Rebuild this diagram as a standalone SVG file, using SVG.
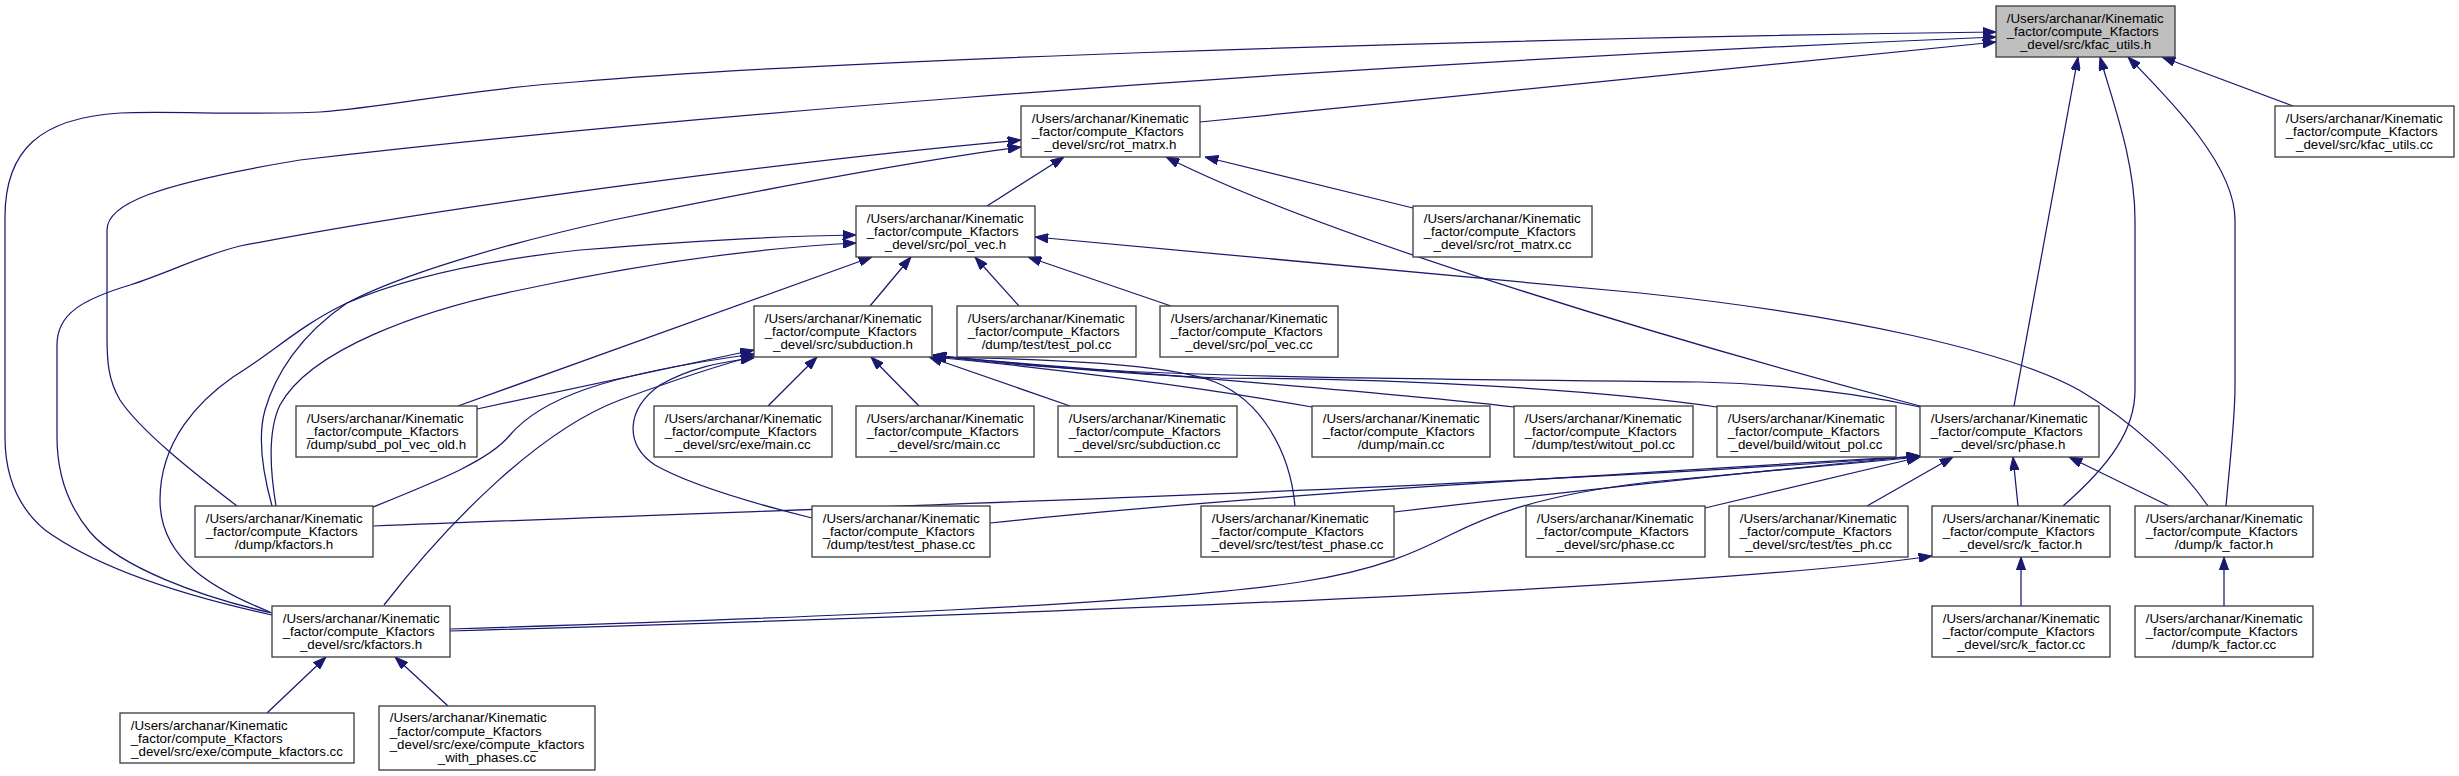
<svg xmlns="http://www.w3.org/2000/svg" width="2459" height="776" viewBox="0 0 2459 776">
<style>
.n rect{fill:#ffffff;stroke:#3a3a3a;stroke-width:1.3}
.n.root rect{fill:#bfbfbf}
.n text{font-family:"Liberation Sans",Arial,Helvetica,sans-serif;font-size:13.33px;fill:#000}
.n text.c{text-anchor:middle}
#edges path{fill:none;stroke:#191970;stroke-width:1.25;marker-end:url(#ah)}
</style>
<defs>
<marker id="ah" viewBox="0 0 13.3 9.4" refX="13.3" refY="4.7" markerWidth="13.3" markerHeight="9.4" markerUnits="userSpaceOnUse" orient="auto">
<path d="M0,0 L13.3,4.7 L0,9.4 z" fill="#191970" stroke="#191970" stroke-width="1"/>
</marker>
</defs>
<rect x="0" y="0" width="2459" height="776" fill="#ffffff"/>
<g id="edges">
<path d="M1200,122 L1996,42"/>
<path d="M272,615 C190,597 100,570 45,530 C15,505 5,470 5,437 L5,217 C5,150 40,118 120,113 C160,111 260,115 320,112 C390,107 460,90 575,82 C800,62 1400,40 1996,32"/>
<path d="M237,506 C190,470 140,430 120,400 C108,380 107,360 107,337 L107,230 C107,205 150,185 300,160 C600,125 1200,70 1996,37"/>
<path d="M272,613 C200,597 120,567 90,532 C65,502 57,470 57,437 L57,345 C57,315 80,300 130,285 C170,272 200,256 240,246 C450,205 800,160 1021,140"/>
<path d="M272,506 C262,470 258,435 265,410 C275,375 300,335 347,303 C400,275 500,245 613,220 C750,192 900,163 1021,147"/>
<path d="M270,612 C215,590 160,560 160,500 C160,440 200,400 233,377 C270,355 300,325 347,303 C400,280 470,262 580,250 C700,240 780,236 856,235"/>
<path d="M276,506 C270,470 268,430 280,405 C310,350 420,310 520,290 C650,262 760,248 856,243"/>
<path d="M458,406 L872,257"/>
<path d="M987,206 L1064,157"/>
<path d="M1920,406 C1700,348 1330,240 1166,157"/>
<path d="M1413,208 L1205,157"/>
<path d="M2293,106 L2162,57"/>
<path d="M2014,406 L2078,57"/>
<path d="M2063,506 C2110,465 2135,430 2135,390 L2135,220 C2135,160 2112,100 2100,57"/>
<path d="M2226,506 C2230,460 2235,420 2235,386 L2235,220 C2235,165 2170,100 2128,57"/>
<path d="M2208,506 C2180,465 2130,420 2079,390 C2010,352 1850,315 1640,293 L1035,237"/>
<path d="M870,306 L911,257"/>
<path d="M1019,306 L975,257"/>
<path d="M1171,306 L1028,257"/>
<path d="M477,409 L754,350"/>
<path d="M373,507 C440,480 490,460 510,435 C540,400 600,375 754,354"/>
<path d="M384,605 C450,520 540,430 620,400 C680,378 720,365 754,356"/>
<path d="M812,518 C760,505 690,485 655,465 C625,445 625,410 660,385 C690,368 720,362 754,358"/>
<path d="M768,406 L817,357"/>
<path d="M919,406 L871,357"/>
<path d="M1070,406 L929,357"/>
<path d="M1312,407 C1200,387 1050,368 933,357"/>
<path d="M1514,407 C1400,393 1100,370 933,356"/>
<path d="M1717,407 C1600,390 1400,378 1220,378 C1100,373 1000,362 933,355"/>
<path d="M1920,407 C1850,392 1780,384 1700,382 C1500,380 1250,378 1100,370 C1030,366 970,361 933,355"/>
<path d="M1295,506 C1290,450 1260,400 1215,382 C1180,368 1100,360 933,357"/>
<path d="M373,526 C900,505 1500,488 1920,456"/>
<path d="M450,629 C800,618 1150,605 1300,582 C1380,570 1420,550 1450,535 C1490,515 1540,495 1650,482 C1750,472 1850,463 1920,457"/>
<path d="M990,523 C1250,495 1650,472 1920,456"/>
<path d="M1394,512 C1600,488 1800,467 1920,456"/>
<path d="M1705,508 L1920,457"/>
<path d="M1867,506 L1953,457"/>
<path d="M2018,506 L2013,457"/>
<path d="M2169,506 L2069,457"/>
<path d="M450,631 C1000,615 1700,590 1932,556"/>
<path d="M2021,606 L2021,557"/>
<path d="M2224,606 L2224,557"/>
<path d="M267,713 L326,657"/>
<path d="M448,706 L395,657"/>
</g>
<g id="node-kfac_utils_h" class="n root"><rect x="1996" y="6" width="179" height="51"/><text x="2006.7" y="22.7">/Users/archanar/Kinematic</text><text x="2006.7" y="36">_factor/compute_Kfactors</text><text class="c" x="2085.5" y="49.3">_devel/src/kfac_utils.h</text></g>
<g id="node-kfac_utils_cc" class="n"><rect x="2275" y="106" width="179" height="51"/><text x="2285.7" y="122.7">/Users/archanar/Kinematic</text><text x="2285.7" y="136">_factor/compute_Kfactors</text><text class="c" x="2364.5" y="149.3">_devel/src/kfac_utils.cc</text></g>
<g id="node-rot_matrx_h" class="n"><rect x="1021" y="106" width="179" height="51"/><text x="1031.7" y="122.7">/Users/archanar/Kinematic</text><text x="1031.7" y="136">_factor/compute_Kfactors</text><text class="c" x="1110.5" y="149.3">_devel/src/rot_matrx.h</text></g>
<g id="node-rot_matrx_cc" class="n"><rect x="1413" y="206" width="179" height="51"/><text x="1423.7" y="222.7">/Users/archanar/Kinematic</text><text x="1423.7" y="236">_factor/compute_Kfactors</text><text class="c" x="1502.5" y="249.3">_devel/src/rot_matrx.cc</text></g>
<g id="node-pol_vec_h" class="n"><rect x="856" y="206" width="179" height="51"/><text x="866.7" y="222.7">/Users/archanar/Kinematic</text><text x="866.7" y="236">_factor/compute_Kfactors</text><text class="c" x="945.5" y="249.3">_devel/src/pol_vec.h</text></g>
<g id="node-subduction_h" class="n"><rect x="754" y="306" width="178" height="51"/><text x="764.7" y="322.7">/Users/archanar/Kinematic</text><text x="764.7" y="336">_factor/compute_Kfactors</text><text class="c" x="843" y="349.3">_devel/src/subduction.h</text></g>
<g id="node-test_pol_cc" class="n"><rect x="957" y="306" width="179" height="51"/><text x="967.7" y="322.7">/Users/archanar/Kinematic</text><text x="967.7" y="336">_factor/compute_Kfactors</text><text class="c" x="1046.5" y="349.3">/dump/test/test_pol.cc</text></g>
<g id="node-pol_vec_cc" class="n"><rect x="1160" y="306" width="178" height="51"/><text x="1170.7" y="322.7">/Users/archanar/Kinematic</text><text x="1170.7" y="336">_factor/compute_Kfactors</text><text class="c" x="1249" y="349.3">_devel/src/pol_vec.cc</text></g>
<g id="node-subd_pol_vec_old_h" class="n"><rect x="296" y="406" width="181" height="51"/><text x="306.7" y="422.7">/Users/archanar/Kinematic</text><text x="306.7" y="436">_factor/compute_Kfactors</text><text class="c" x="386.5" y="449.3">/dump/subd_pol_vec_old.h</text></g>
<g id="node-exe_main_cc" class="n"><rect x="654" y="406" width="178" height="51"/><text x="664.7" y="422.7">/Users/archanar/Kinematic</text><text x="664.7" y="436">_factor/compute_Kfactors</text><text class="c" x="743" y="449.3">_devel/src/exe/main.cc</text></g>
<g id="node-src_main_cc" class="n"><rect x="856" y="406" width="178" height="51"/><text x="866.7" y="422.7">/Users/archanar/Kinematic</text><text x="866.7" y="436">_factor/compute_Kfactors</text><text class="c" x="945" y="449.3">_devel/src/main.cc</text></g>
<g id="node-subduction_cc" class="n"><rect x="1058" y="406" width="179" height="51"/><text x="1068.7" y="422.7">/Users/archanar/Kinematic</text><text x="1068.7" y="436">_factor/compute_Kfactors</text><text class="c" x="1147.5" y="449.3">_devel/src/subduction.cc</text></g>
<g id="node-dump_main_cc" class="n"><rect x="1312" y="406" width="178" height="51"/><text x="1322.7" y="422.7">/Users/archanar/Kinematic</text><text x="1322.7" y="436">_factor/compute_Kfactors</text><text class="c" x="1401" y="449.3">/dump/main.cc</text></g>
<g id="node-dump_witout_pol_cc" class="n"><rect x="1514" y="406" width="179" height="51"/><text x="1524.7" y="422.7">/Users/archanar/Kinematic</text><text x="1524.7" y="436">_factor/compute_Kfactors</text><text class="c" x="1603.5" y="449.3">/dump/test/witout_pol.cc</text></g>
<g id="node-build_witout_pol_cc" class="n"><rect x="1717" y="406" width="179" height="51"/><text x="1727.7" y="422.7">/Users/archanar/Kinematic</text><text x="1727.7" y="436">_factor/compute_Kfactors</text><text class="c" x="1806.5" y="449.3">_devel/build/witout_pol.cc</text></g>
<g id="node-phase_h" class="n"><rect x="1920" y="406" width="179" height="51"/><text x="1930.7" y="422.7">/Users/archanar/Kinematic</text><text x="1930.7" y="436">_factor/compute_Kfactors</text><text class="c" x="2009.5" y="449.3">_devel/src/phase.h</text></g>
<g id="node-dump_kfactors_h" class="n"><rect x="195" y="506" width="178" height="51"/><text x="205.7" y="522.7">/Users/archanar/Kinematic</text><text x="205.7" y="536">_factor/compute_Kfactors</text><text class="c" x="284" y="549.3">/dump/kfactors.h</text></g>
<g id="node-dump_test_phase_cc" class="n"><rect x="812" y="506" width="178" height="51"/><text x="822.7" y="522.7">/Users/archanar/Kinematic</text><text x="822.7" y="536">_factor/compute_Kfactors</text><text class="c" x="901" y="549.3">/dump/test/test_phase.cc</text></g>
<g id="node-src_test_phase_cc" class="n"><rect x="1201" y="506" width="193" height="51"/><text x="1211.7" y="522.7">/Users/archanar/Kinematic</text><text x="1211.7" y="536">_factor/compute_Kfactors</text><text class="c" x="1297.5" y="549.3">_devel/src/test/test_phase.cc</text></g>
<g id="node-phase_cc" class="n"><rect x="1526" y="506" width="179" height="51"/><text x="1536.7" y="522.7">/Users/archanar/Kinematic</text><text x="1536.7" y="536">_factor/compute_Kfactors</text><text class="c" x="1615.5" y="549.3">_devel/src/phase.cc</text></g>
<g id="node-tes_ph_cc" class="n"><rect x="1729" y="506" width="179" height="51"/><text x="1739.7" y="522.7">/Users/archanar/Kinematic</text><text x="1739.7" y="536">_factor/compute_Kfactors</text><text class="c" x="1818.5" y="549.3">_devel/src/test/tes_ph.cc</text></g>
<g id="node-k_factor_h" class="n"><rect x="1932" y="506" width="178" height="51"/><text x="1942.7" y="522.7">/Users/archanar/Kinematic</text><text x="1942.7" y="536">_factor/compute_Kfactors</text><text class="c" x="2021" y="549.3">_devel/src/k_factor.h</text></g>
<g id="node-dump_k_factor_h" class="n"><rect x="2135" y="506" width="178" height="51"/><text x="2145.7" y="522.7">/Users/archanar/Kinematic</text><text x="2145.7" y="536">_factor/compute_Kfactors</text><text class="c" x="2224" y="549.3">/dump/k_factor.h</text></g>
<g id="node-kfactors_h" class="n"><rect x="272" y="606" width="178" height="51"/><text x="282.7" y="622.7">/Users/archanar/Kinematic</text><text x="282.7" y="636">_factor/compute_Kfactors</text><text class="c" x="361" y="649.3">_devel/src/kfactors.h</text></g>
<g id="node-k_factor_cc" class="n"><rect x="1932" y="606" width="178" height="51"/><text x="1942.7" y="622.7">/Users/archanar/Kinematic</text><text x="1942.7" y="636">_factor/compute_Kfactors</text><text class="c" x="2021" y="649.3">_devel/src/k_factor.cc</text></g>
<g id="node-dump_k_factor_cc" class="n"><rect x="2135" y="606" width="178" height="51"/><text x="2145.7" y="622.7">/Users/archanar/Kinematic</text><text x="2145.7" y="636">_factor/compute_Kfactors</text><text class="c" x="2224" y="649.3">/dump/k_factor.cc</text></g>
<g id="node-compute_kfactors_cc" class="n"><rect x="120" y="713" width="234" height="50"/><text x="130.7" y="729.5">/Users/archanar/Kinematic</text><text x="130.7" y="742.8">_factor/compute_Kfactors</text><text class="c" x="237" y="756">_devel/src/exe/compute_kfactors.cc</text></g>
<g id="node-compute_kfactors_with_phases_cc" class="n"><rect x="379" y="706" width="216" height="64"/><text x="389.7" y="722.3">/Users/archanar/Kinematic</text><text x="389.7" y="735.6">_factor/compute_Kfactors</text><text x="389.7" y="748.9">_devel/src/exe/compute_kfactors</text><text class="c" x="487" y="762.2">_with_phases.cc</text></g>
</svg>
